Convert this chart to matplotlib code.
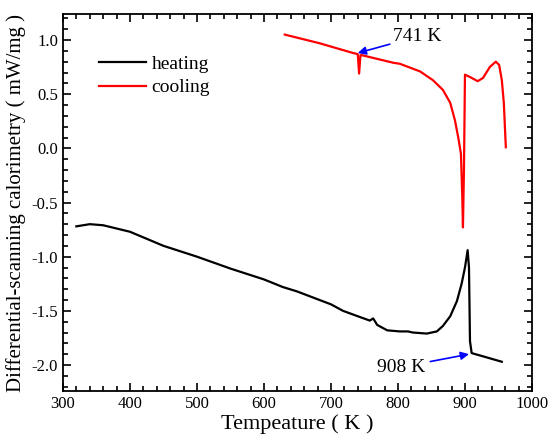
import numpy as np
import matplotlib
matplotlib.use("Agg")
import matplotlib.pyplot as plt
from matplotlib.ticker import MultipleLocator

plt.rcParams['font.family'] = ['Liberation Serif', 'DejaVu Serif']

# heating curve (K, mW/mg)
heating_T = [320, 340, 360, 400, 450, 500, 550, 600, 628, 649, 700, 718, 740,
             758, 763, 769, 784, 803, 815, 822, 843, 858, 867, 878, 888, 895,
             900, 904, 906, 907.5, 910, 927, 955]
heating_v = [-0.72, -0.70, -0.71, -0.77, -0.90, -1.00, -1.11, -1.21, -1.28,
             -1.32, -1.44, -1.50, -1.55, -1.59, -1.57, -1.63, -1.68, -1.69,
             -1.69, -1.70, -1.71, -1.69, -1.64, -1.55, -1.41, -1.25, -1.10,
             -0.94, -1.10, -1.78, -1.89, -1.92, -1.97]

# cooling curve
cooling_T = [631, 683, 733, 740, 742, 744, 746, 793, 803, 833, 852, 867, 878,
             885, 890, 894, 896, 897, 898.5, 900, 907, 919, 927, 937, 946, 951,
             955, 958, 961]
cooling_v = [1.05, 0.97, 0.88, 0.87, 0.69, 0.86, 0.86, 0.79, 0.78, 0.71, 0.63,
             0.54, 0.42, 0.26, 0.10, -0.05, -0.45, -0.73, -0.20, 0.68, 0.66,
             0.62, 0.65, 0.75, 0.80, 0.77, 0.63, 0.42, 0.01]

fig = plt.figure(figsize=(5.5, 4.46), dpi=100)
ax = fig.add_axes([0.1145, 0.1233, 0.8527, 0.8453])

ax.plot(heating_T, heating_v, color='black', lw=1.6, label='heating')
ax.plot(cooling_T, cooling_v, color='red', lw=1.6, label='cooling')

# annotations
ax.annotate('741 K', xy=(740, 0.88), xytext=(792, 1.03), fontsize=14,
            va='center', ha='left',
            arrowprops=dict(arrowstyle='-|>', color='blue', lw=1.2,
                            shrinkA=0, shrinkB=0, mutation_scale=12))
ax.annotate('908 K', xy=(906, -1.90), xytext=(840, -2.02), fontsize=14,
            va='center', ha='right',
            arrowprops=dict(arrowstyle='-|>', color='blue', lw=1.2,
                            shrinkA=2, shrinkB=0, mutation_scale=12))

ax.set_xlim(300, 1000)
ax.set_ylim(-2.24, 1.24)
ax.xaxis.set_major_locator(MultipleLocator(100))
ax.xaxis.set_minor_locator(MultipleLocator(20))
ax.yaxis.set_major_locator(MultipleLocator(0.5))
ax.yaxis.set_minor_locator(MultipleLocator(0.1))
ax.yaxis.set_major_formatter(matplotlib.ticker.FormatStrFormatter('%.1f'))
ax.tick_params(which='both', direction='in', top=True, right=True,
               labelsize=12, width=1.2)
ax.tick_params(which='major', length=6)
ax.tick_params(which='minor', length=3.5)
for s in ax.spines.values():
    s.set_linewidth(1.3)

ax.set_xlabel('Tempeature ( K )', fontsize=16, labelpad=2)
ax.set_ylabel('Differential-scanning calorimetry ( mW/mg )', fontsize=15,
              labelpad=4)

ax.legend(loc='upper left', bbox_to_anchor=(0.04, 0.937), frameon=False,
          fontsize=14, handlelength=2.4, handletextpad=0.3, labelspacing=0.3)

fig.savefig('out.png', dpi=100)
